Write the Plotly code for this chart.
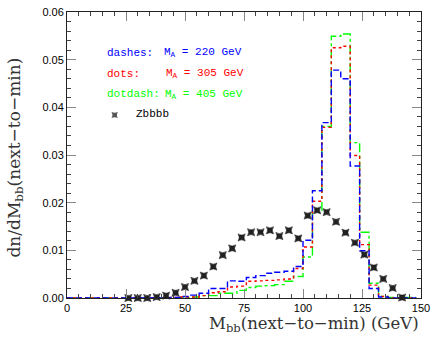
import plotly.graph_objects as go

# bin edges (GeV), 4 GeV bins
edges = list(range(0, 152, 4))  # 0..148

# histogram values per bin (37 bins: 0-4 ... 144-148)
dashes_220 = [0, 0, 0, 0, 0, 0, 0, 0, 0, 0, 0, 0.0001,
              0.0003, 0.0006, 0.0010, 0.0020, 0.0020, 0.0036, 0.0035, 0.0043,
              0.0047, 0.0052, 0.0054, 0.0056, 0.0066, 0.0121, 0.0225, 0.0368,
              0.0478, 0.0460, 0.0277, 0.0099, 0.0020, 0.0002, 0, 0, 0]
dots_305 = [0, 0, 0, 0, 0, 0, 0, 0, 0, 0, 0, 0.0001,
            0.0002, 0.0002, 0.0005, 0.0011, 0.0013, 0.0023, 0.0025, 0.0035,
            0.0036, 0.0037, 0.0038, 0.0040, 0.0062, 0.0107, 0.0203, 0.0358,
            0.0525, 0.0528, 0.0299, 0.0112, 0.0027, 0.0003, 0, 0, 0]
dotdash_405 = [0, 0, 0, 0, 0, 0, 0, 0, 0, 0, 0, 0,
               0.0001, 0.0002, 0.0005, 0.0005, 0.0010, 0.0010, 0.0016, 0.0022,
               0.0025, 0.0026, 0.0028, 0.0035, 0.0045, 0.0086, 0.0184, 0.0360,
               0.0549, 0.0554, 0.0326, 0.0138, 0.0031, 0.0003, 0.0001, 0.0001, 0.0001]

# Zbbbb background points (bin centres)
zbbbb_x = [26, 30, 34, 38, 42, 46, 50, 54, 58, 62, 66, 70, 74, 78, 82, 86, 90,
           94, 98, 102, 106, 110, 114, 118, 122, 126, 130, 134, 138, 142]
zbbbb_y = [0.0, 0.0, 0.0, 0.0002, 0.0005, 0.0011, 0.0023, 0.0036, 0.0047, 0.0066,
           0.0090, 0.0104, 0.0127, 0.0138, 0.0138, 0.0142, 0.0130, 0.0142, 0.0125,
           0.0173, 0.0184, 0.0180, 0.0160, 0.0137, 0.0116, 0.0091, 0.0064, 0.0040,
           0.0021, 0.0001]

x_ticks = [0, 25, 50, 75, 100, 125, 150]
y_ticks = [0.0, 0.01, 0.02, 0.03, 0.04, 0.05, 0.06]
y_tick_labels = ["0.00", "0.01", "0.02", "0.03", "0.04", "0.05", "0.06"]

fig = go.Figure()

def step(vals):
    return vals + [vals[-1]]

fig.add_trace(go.Scatter(x=edges, y=step(dotdash_405), mode="lines", line_shape="hv",
                         line=dict(color="#00FF00", width=1.4, dash="dashdot"), showlegend=False))
fig.add_trace(go.Scatter(x=edges, y=step(dots_305), mode="lines", line_shape="hv",
                         line=dict(color="#FF0000", width=1.4, dash="dot"), showlegend=False))
fig.add_trace(go.Scatter(x=edges, y=step(dashes_220), mode="lines", line_shape="hv",
                         line=dict(color="#0000FF", width=1.4, dash="6px,3px"), showlegend=False))
fig.add_trace(go.Scatter(x=zbbbb_x, y=zbbbb_y, mode="markers",
                         marker=dict(symbol="star-square", size=6.5, color="#222222",
                                     line=dict(color="#000000", width=0.5)),
                         showlegend=False, cliponaxis=False))
# legend marker
fig.add_trace(go.Scatter(x=[20.2], y=[0.0384], mode="markers",
                         marker=dict(symbol="star-square", size=6, color="#555555"),
                         showlegend=False))

legfont = dict(family="Liberation Mono, DejaVu Sans Mono, monospace", size=11)
ann = [
    dict(x=16.0, y=0.0514, text="dashes:", font=dict(color="#0000FF", **legfont)),
    dict(x=40.4, y=0.0514, text="M<sub>A</sub> = 220 GeV", font=dict(color="#0000FF", **legfont)),
    dict(x=16.0, y=0.0470, text="dots:", font=dict(color="#FF0000", **legfont)),
    dict(x=41.2, y=0.0470, text="M<sub>A</sub> = 305 GeV", font=dict(color="#FF0000", **legfont)),
    dict(x=16.0, y=0.0427, text="dotdash:", font=dict(color="#00FF00", **legfont)),
    dict(x=40.8, y=0.0427, text="M<sub>A</sub> = 405 GeV", font=dict(color="#00FF00", **legfont)),
    dict(x=28.2, y=0.0385, text="Zbbbb", font=dict(color="#000000", **legfont)),
]
annotations = []
for a in ann:
    a.update(xref="x", yref="y", xanchor="left", yanchor="middle", showarrow=False)
    annotations.append(a)

titlefont = dict(family="DejaVu Serif, Liberation Serif, serif", size=16.5, color="#333333")
annotations.append(dict(x=1.0, y=-0.05, xref="paper", yref="paper", xanchor="right", yanchor="top",
                        text="M<sub>bb</sub>(next\u2212to\u2212min) (GeV)", showarrow=False, font=titlefont))
annotations.append(dict(x=-0.145, y=0.49, xref="paper", yref="paper", xanchor="center", yanchor="middle",
                        text="dn/dM<sub>bb</sub>(next\u2212to\u2212min)", textangle=-90,
                        showarrow=False, font=dict(family="DejaVu Serif, Liberation Serif, serif",
                                                   size=17, color="#333333")))

tickfont = dict(family="Liberation Sans, Arial, sans-serif", size=11, color="#000000")
fig.update_layout(
    width=436, height=346,
    margin=dict(l=67, r=13, t=6, b=48),
    paper_bgcolor="white", plot_bgcolor="white",
    annotations=annotations,
    xaxis=dict(range=[0, 150], tickvals=x_ticks, ticktext=[str(v) for v in x_ticks],
               ticks="inside", ticklen=9, tickcolor="#888888", tickwidth=1,
               minor=dict(dtick=5, ticks="inside", ticklen=4, tickcolor="#444444"),
               showline=True, linecolor="#222222", linewidth=1, mirror="ticks",
               showgrid=False, zeroline=False, tickfont=tickfont),
    yaxis=dict(range=[0, 0.06], tickvals=y_ticks, ticktext=y_tick_labels,
               ticks="inside", ticklen=9, tickcolor="#888888", tickwidth=1,
               minor=dict(dtick=0.002, ticks="inside", ticklen=4, tickcolor="#444444"),
               showline=True, linecolor="#222222", linewidth=1, mirror="ticks",
               showgrid=False, zeroline=False, tickfont=tickfont),
)

fig.write_html("out.html", config={"displayModeBar": False},
               post_script="document.body.style.margin='0';document.body.style.padding='0';")
